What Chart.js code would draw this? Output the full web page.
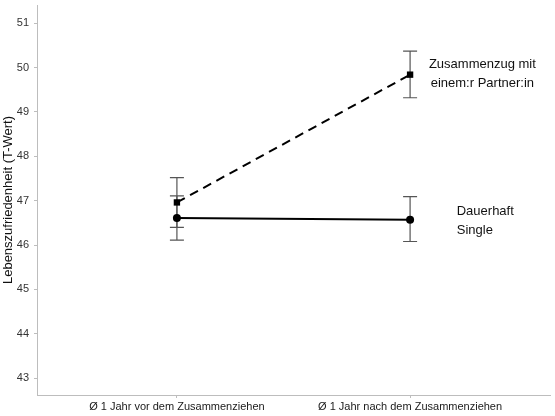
<!DOCTYPE html>
<html lang="de">
<head>
  <meta charset="UTF-8">
  <title>Lebenszufriedenheit</title>
  <script src="https://cdn.jsdelivr.net/npm/chart.js"></script>
  <style>
    html, body { margin: 0; padding: 0; background: #fff; }
    #wrap { width: 555px; height: 416px; }
  </style>
</head>
<body>
<div id="wrap"><canvas id="chart" width="555" height="416"></canvas></div>
<script>
// categories on the x axis (positions 1 and 2)
const categories = ['Ø 1 Jahr vor dem Zusammenziehen', 'Ø 1 Jahr nach dem Zusammenziehen'];
const yTicks = [43, 44, 45, 46, 47, 48, 49, 50, 51];

// Zusammenzug mit einem:r Partner:in
const partnerMean = [46.96, 49.84];
const partnerLow  = [46.40, 49.32];
const partnerHigh = [47.52, 50.37];

// Dauerhaft Single
const singleMean = [46.61, 46.57];
const singleLow  = [46.11, 46.08];
const singleHigh = [47.11, 47.09];

// direct labels next to the lines
const labelPartner = { x: 2.31, y: 49.86, lines: ['Zusammenzug mit', 'einem:r Partner:in'], align: 'center' };
const labelSingle  = { x: 2.2,  y: 46.55, lines: ['Dauerhaft', 'Single'], align: 'left' };

const toPoints = arr => arr.map((v, i) => ({ x: i + 1, y: v }));

const errorBars = {
  id: 'errorBars',
  beforeDatasetsDraw(chart) {
    const { ctx, scales: { x, y } } = chart;
    const sets = [[partnerLow, partnerHigh], [singleLow, singleHigh]];
    ctx.save();
    ctx.strokeStyle = '#555';
    ctx.lineWidth = 1.2;
    sets.forEach(([lo, hi]) => {
      lo.forEach((l, i) => {
        const px = x.getPixelForValue(i + 1);
        const y1 = y.getPixelForValue(l);
        const y2 = y.getPixelForValue(hi[i]);
        ctx.beginPath();
        ctx.moveTo(px, y1); ctx.lineTo(px, y2);
        ctx.moveTo(px - 7, y1); ctx.lineTo(px + 7, y1);
        ctx.moveTo(px - 7, y2); ctx.lineTo(px + 7, y2);
        ctx.stroke();
      });
    });
    ctx.restore();
  }
};

const lineLabels = {
  id: 'lineLabels',
  afterDatasetsDraw(chart) {
    const { ctx, scales: { x, y } } = chart;
    ctx.save();
    ctx.fillStyle = '#111';
    ctx.font = '13px "Liberation Sans", Arial, sans-serif';
    ctx.textBaseline = 'middle';
    [labelPartner, labelSingle].forEach(lab => {
      const px = x.getPixelForValue(lab.x);
      const py = y.getPixelForValue(lab.y);
      ctx.textAlign = lab.align;
      lab.lines.forEach((t, k) => {
        ctx.fillText(t, px, py + (k - (lab.lines.length - 1) / 2) * 19);
      });
    });
    ctx.restore();
  }
};

new Chart(document.getElementById('chart'), {
  type: 'line',
  data: {
    datasets: [
      {
        label: 'Zusammenzug mit einem:r Partner:in',
        data: toPoints(partnerMean),
        borderColor: '#000',
        backgroundColor: '#000',
        borderWidth: 2,
        borderDash: [9, 6],
        pointStyle: 'rect',
        pointRadius: 4.5,
        pointBorderWidth: 0
      },
      {
        label: 'Dauerhaft Single',
        data: toPoints(singleMean),
        borderColor: '#000',
        backgroundColor: '#000',
        borderWidth: 2,
        pointStyle: 'circle',
        pointRadius: 4,
        pointBorderWidth: 0
      }
    ]
  },
  options: {
    responsive: false,
    animation: false,
    layout: { padding: { top: 5, right: 5, left: 0, bottom: 0 } },
    plugins: { legend: { display: false }, tooltip: { enabled: false } },
    scales: {
      x: {
        type: 'linear',
        min: 0.4,
        max: 2.6,
        afterBuildTicks: s => { s.ticks = categories.map((c, i) => ({ value: i + 1 })); },
        afterFit: s => { s.height = 21; s.paddingLeft = 0; s.paddingRight = 0; },
        ticks: {
          callback: v => categories[v - 1],
          color: '#1a1a1a',
          font: { family: '"Liberation Sans", Arial, sans-serif', size: 11 },
          padding: 2,
          maxRotation: 0,
          autoSkip: false
        },
        grid: { drawOnChartArea: false, drawTicks: true, tickLength: 3, color: '#bdbdbd' },
        border: { color: '#bdbdbd', width: 1 }
      },
      y: {
        min: 42.62,
        max: 51.41,
        afterBuildTicks: s => { s.ticks = yTicks.map(v => ({ value: v })); },
        afterFit: s => { s.width = 37; s.paddingTop = 0; s.paddingBottom = 0; },
        ticks: {
          color: '#333',
          font: { family: '"Liberation Sans", Arial, sans-serif', size: 11 },
          padding: 5
        },
        title: {
          display: true,
          text: 'Lebenszufriedenheit (T-Wert)',
          color: '#111',
          font: { family: '"Liberation Sans", Arial, sans-serif', size: 13 },
          padding: { top: 1, bottom: 0 }
        },
        grid: { drawOnChartArea: false, drawTicks: true, tickLength: 3, color: '#bdbdbd' },
        border: { color: '#bdbdbd', width: 1 }
      }
    }
  },
  plugins: [errorBars, lineLabels]
});
</script>
</body>
</html>
